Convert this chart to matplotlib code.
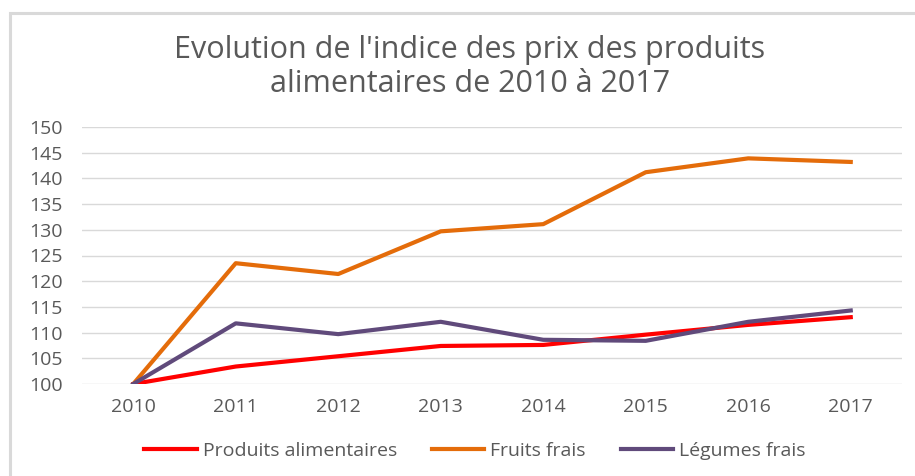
import matplotlib.pyplot as plt
from matplotlib.patches import Rectangle

years = ["2010", "2011", "2012", "2013", "2014", "2015", "2016", "2017"]
produits = [100, 103.4, 105.4, 107.4, 107.6, 109.6, 111.5, 113.0]
fruits = [100, 123.5, 121.4, 129.7, 131.1, 141.2, 143.9, 143.2]
legumes = [100, 111.8, 109.7, 112.1, 108.6, 108.4, 112.1, 114.3]
yticks = [100, 105, 110, 115, 120, 125, 130, 135, 140, 145, 150]

plt.rcParams['font.family'] = ['Open Sans', 'DejaVu Sans']
gray = "#595959"

W, H = 915, 476
fig = plt.figure(figsize=(W / 100, H / 100), dpi=100)

# chart border (cut off at right / bottom like the source)
fig.patches.append(Rectangle((10 / W, -0.1), 1.2, 1 - 13 / H + 0.1,
                             transform=fig.transFigure, fill=False,
                             ec="#d9d9d9", lw=2.2))

ax = fig.add_axes([82 / W, 1 - 384 / H, (902 - 82) / W, (384 - 127) / H])
x = range(len(years))
ax.plot(x, produits, c="#ff0000", lw=3, label="Produits alimentaires")
ax.plot(x, fruits, c="#e46c0a", lw=3, label="Fruits frais")
ax.plot(x, legumes, c="#604a7b", lw=3, label="Légumes frais")

ax.set_xlim(-0.5, len(years) - 0.5)
ax.set_ylim(100, 150)
ax.set_yticks(yticks)
ax.set_xticks(list(x))
ax.set_xticklabels(years)
ax.grid(axis="y", color="#d9d9d9", lw=1)
ax.set_axisbelow(True)
for s in ax.spines.values():
    s.set_visible(False)
ax.tick_params(length=0, labelsize=14, colors=gray, pad=10)
ax.tick_params(axis="y", pad=14)

fig.text(470 / W, 1 - 67 / H,
         "Evolution de l'indice des prix des produits\nalimentaires de 2010 à 2017",
         ha="center", va="center", fontsize=22, color=gray, linespacing=1.2)

ax.legend(loc="center",
          bbox_to_anchor=((475 - 82) / (902 - 82), (384 - 451) / (384 - 127)),
          ncol=3, frameon=False, fontsize=14, labelcolor=gray,
          handlelength=2.7, handletextpad=0.3, columnspacing=1.8)

plt.savefig("out.png", dpi=100)
